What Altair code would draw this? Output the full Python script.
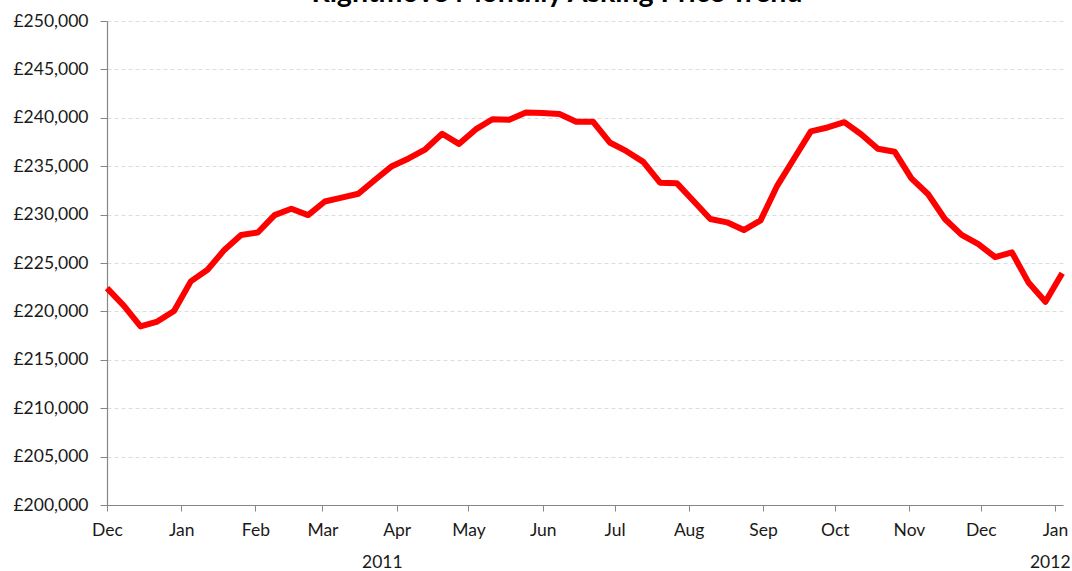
import altair as alt
import pandas as pd

# Weekly asking prices (GBP), Dec 2010 - Jan 2012
start_date = "2010-12-01"
prices = [
    222400, 220600, 218450, 218950, 220050, 223100, 224300, 226350, 227900, 228150,
    229950, 230600, 229950, 231350, 231750, 232150, 233600, 235000, 235800, 236750,
    238350, 237300, 238800, 239850, 239800, 240550, 240500, 240400, 239600, 239600,
    237450, 236550, 235450, 233300, 233250, 231400, 229550, 229200, 228400, 229400,
    233000, 235800, 238600, 239000, 239550, 238300, 236800, 236500, 233750, 232100,
    229550, 227900, 226950, 225600, 226100, 222950, 221000, 223950,
]
dates = [d.strftime("%Y-%m-%d") for d in pd.date_range(start_date, periods=len(prices), freq="7D")]

month_ticks = [
    (2010, 12), (2011, 1), (2011, 2), (2011, 3), (2011, 4), (2011, 5), (2011, 6),
    (2011, 7), (2011, 8), (2011, 9), (2011, 10), (2011, 11), (2011, 12), (2012, 1),
]
y_ticks = [200000, 205000, 210000, 215000, 220000, 225000, 230000,
           235000, 240000, 245000, 250000]

year_labels = ["2011", "2012"]
year_label_dates = ["2011-03-26", "2011-12-30"]

title_text = "Rightmove Monthly Asking Price Trend"

df = pd.DataFrame({"date": dates, "price": prices})
years_df = pd.DataFrame({"date": year_label_dates, "label": year_labels})

FONT = "Lato"
LABEL_SIZE = 17.5
LABEL_COLOR = "#1a1a1a"

x_scale = alt.Scale(
    type="utc",
    domain=[alt.DateTime(year=2010, month=12, date=1, utc=True),
            alt.DateTime(year=2012, month=1, date=4, hours=8, utc=True)],
)

line = alt.Chart(df).mark_line(
    color="#FF0000", strokeWidth=6, strokeJoin="round", strokeCap="butt"
).encode(
    x=alt.X("date:T", scale=x_scale,
            axis=alt.Axis(
                title=None,
                values=[alt.DateTime(year=y, month=m, date=1, utc=True) for y, m in month_ticks],
                format="%b", grid=False, tickSize=6, labelPadding=10,
                labelOverlap=False, labelFlush=False,
                labelFont=FONT, labelFontSize=LABEL_SIZE, labelColor=LABEL_COLOR,
                domainColor="#868686", tickColor="#868686", domainWidth=1.2,
            )),
    y=alt.Y("price:Q", scale=alt.Scale(domain=[200000, 250000], nice=False, zero=False),
            axis=alt.Axis(
                title=None, values=y_ticks,
                labelExpr="'£' + format(datum.value, ',.0f')",
                grid=True, gridDash=[4, 3], gridColor="#DDDDDD", gridWidth=1,
                tickSize=7, labelPadding=12,
                labelFont=FONT, labelFontSize=LABEL_SIZE, labelColor=LABEL_COLOR,
                domainColor="#868686", tickColor="#868686", domainWidth=1.2,
            )),
)

title = alt.Chart(pd.DataFrame({"t": [title_text]})).mark_text(
    font=FONT, fontSize=28.5, fontWeight="bold", color="#000000",
    baseline="alphabetic", align="center",
).encode(
    x=alt.value(450), y=alt.value(-19), text="t:N"
)

years = alt.Chart(years_df).mark_text(
    font=FONT, fontSize=LABEL_SIZE, color=LABEL_COLOR, baseline="middle", align="center",
).encode(
    x=alt.X("date:T", scale=x_scale),
    y=alt.value(541.5),
    text="label:N",
)

chart = alt.layer(line, title, years).properties(
    width=956, height=484,
    padding={"left": 107, "top": 21, "right": 9, "bottom": 66},
    autosize=alt.AutoSizeParams(type="none"),
    background="white",
).configure_view(stroke=None)

chart.save("out.html", embed_options={"renderer": "svg", "actions": False})
